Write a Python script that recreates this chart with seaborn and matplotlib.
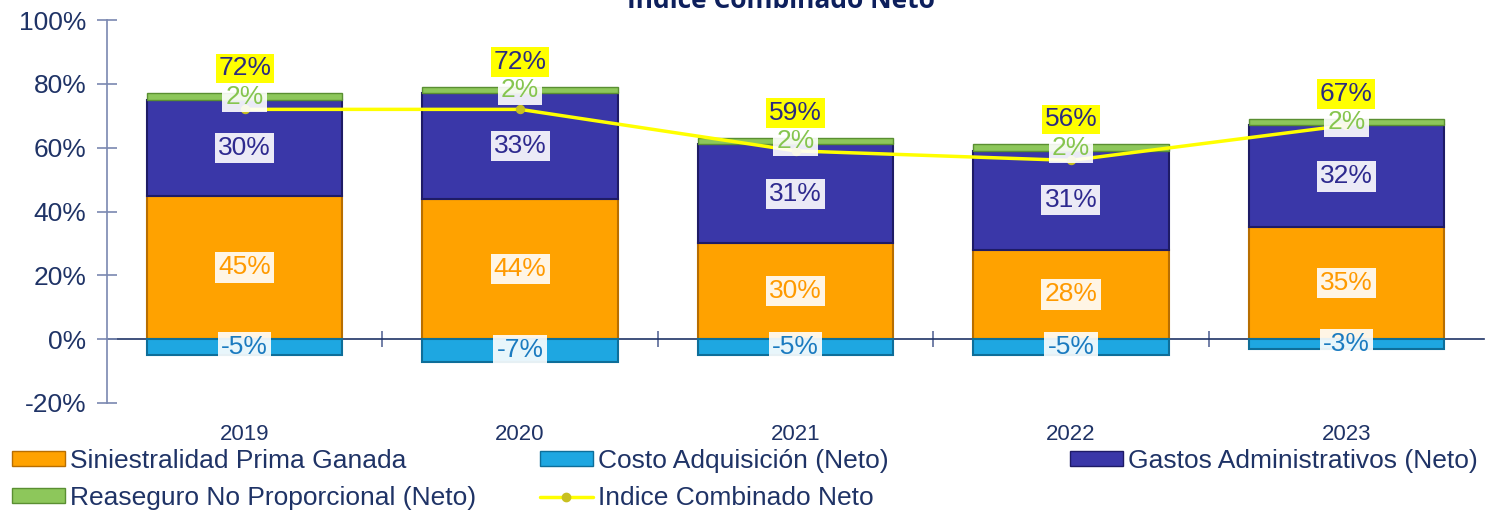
import matplotlib
matplotlib.use('Agg')
import numpy as np
import pandas as pd
import matplotlib.pyplot as plt
from matplotlib.patches import Patch
from matplotlib.lines import Line2D
import seaborn as sns

# Datos
anios = ['2019', '2020', '2021', '2022', '2023']
siniestralidad = [45, 44, 30, 28, 35]
costo_adq = [-5, -7, -5, -5, -3]
gastos_adm = [30, 33, 31, 31, 32]
reaseguro = [2, 2, 2, 2, 2]
indice = [72, 72, 59, 56, 67]

sns.set_theme(style="white")
plt.rcParams['font.family'] = ['Liberation Sans', 'DejaVu Sans']

NAVY = '#1F3366'
C_SIN, C_COSTO, C_GAS, C_REA = '#FFA200', '#1EA7E1', '#3A37A8', '#8DC75B'
E_SIN, E_COSTO, E_GAS, E_REA = '#B86E00', '#0E6E99', '#1E1B66', '#5A8F32'

df = pd.DataFrame({'anio': anios, 'sin': siniestralidad, 'costo': costo_adq,
                   'gas': gastos_adm, 'rea': reaseguro, 'indice': indice})
df['base_gas'] = df['sin']
df['base_rea'] = df['sin'] + df['gas']
df['total'] = df['base_rea'] + df['rea']

fig = plt.figure(figsize=(14.88, 5.12), dpi=100)
ax = fig.add_axes([107 / 1488, 1 - 403 / 512, (1484 - 107) / 1488, 383 / 512])

ancho = 0.71
sns.barplot(data=df, x='anio', y='sin', color=C_SIN, edgecolor=E_SIN, linewidth=1.5,
            width=ancho, saturation=1, ax=ax)
sns.barplot(data=df, x='anio', y='costo', color=C_COSTO, edgecolor=E_COSTO, linewidth=1.5,
            width=ancho, saturation=1, ax=ax)
sns.barplot(data=df, x='anio', y='gas', bottom=df['base_gas'], color=C_GAS, edgecolor=E_GAS,
            linewidth=1.5, width=ancho, saturation=1, ax=ax)
sns.barplot(data=df, x='anio', y='rea', bottom=df['base_rea'], color=C_REA, edgecolor=E_REA,
            linewidth=1.0, width=ancho, saturation=1, ax=ax)

pos = np.arange(len(anios))
sns.lineplot(x=pos, y=df['indice'], color='#FFFF00', linewidth=2.5, marker='o',
             markersize=6, markerfacecolor='#C8C020', markeredgecolor='#C8C020', ax=ax)

caja = dict(boxstyle='square,pad=0.12', facecolor='white', edgecolor='none', alpha=0.9)
fs = 19
for i in range(len(anios)):
    ax.text(i, df['sin'][i] / 2, f"{df['sin'][i]}%", ha='center', va='center',
            fontsize=fs, color='#FF9A00', bbox=caja)
    ax.text(i, df['costo'][i] / 2, f"{df['costo'][i]}%", ha='center', va='center',
            fontsize=fs, color='#1B7BC0', bbox=caja)
    ax.text(i, df['base_gas'][i] + df['gas'][i] / 2, f"{df['gas'][i]}%", ha='center',
            va='center', fontsize=fs, color='#2E2A8F', bbox=caja)
    ax.text(i, df['base_rea'][i] + df['rea'][i] / 2, f"{df['rea'][i]}%", ha='center',
            va='center', fontsize=fs, color='#86C54F', bbox=caja)
    ax.annotate(f"{df['indice'][i]}%", (i, df['total'][i]), xytext=(0, 18),
                textcoords='offset points', ha='center', va='center', fontsize=fs,
                color='#2B2B80',
                bbox=dict(boxstyle='square,pad=0.1', facecolor='#FFFF00', edgecolor='none'))

ax.set_xlim(-0.5, len(anios) - 0.5)
ax.set_ylim(-20, 100)
ax.set_yticks(range(-20, 101, 20))
ax.set_yticklabels([f"{v}%" for v in range(-20, 101, 20)])
ax.set_xlabel('')
ax.set_ylabel('')
ax.tick_params(axis='y', direction='inout', length=14, width=1.2, color='#7A88B0',
               labelsize=19, labelcolor=NAVY, pad=8, left=True)
ax.tick_params(axis='x', length=0, labelsize=16, labelcolor=NAVY, pad=15)
for s in ['top', 'right', 'bottom']:
    ax.spines[s].set_visible(False)
ax.spines['left'].set_color('#7A88B0')
ax.spines['left'].set_linewidth(1.2)

# eje de categorías en 0%
eje0 = ax.secondary_xaxis(0, transform=ax.transData)
eje0.set_xticks(pos[:-1] + 0.5)
eje0.set_xticklabels([])
eje0.tick_params(direction='inout', length=12, width=1.2, color='#5A6A98')
eje0.spines['bottom'].set_color('#1F3366')
eje0.spines['bottom'].set_linewidth(1.2)

fig.text(781 / 1488, 1 - 8 / 512, 'Indice Combinado Neto', ha='center', va='baseline',
         fontsize=19, fontweight='bold', color='#0D1F5C', family=['Open Sans', 'DejaVu Sans'])

# leyenda en tres columnas
columnas = [
    (12, [Patch(facecolor=C_SIN, edgecolor=E_SIN), Patch(facecolor=C_REA, edgecolor=E_REA)],
     ['Siniestralidad Prima Ganada', 'Reaseguro No Proporcional (Neto)']),
    (540, [Patch(facecolor=C_COSTO, edgecolor=E_COSTO),
           Line2D([], [], color='#FFFF00', linewidth=2.5, marker='o', markersize=6,
                  markerfacecolor='#C8C020', markeredgecolor='#C8C020')],
     ['Costo Adquisición (Neto)', 'Indice Combinado Neto']),
    (1070, [Patch(facecolor=C_GAS, edgecolor=E_GAS)], ['Gastos Administrativos (Neto)']),
]
for x0, handles, labels in columnas:
    leg = fig.legend(handles, labels, loc='upper left', bbox_to_anchor=(x0 / 1488, 1 - 449 / 512),
                     frameon=False, fontsize=19, handlelength=2.0, handleheight=0.5,
                     handletextpad=0.2, labelspacing=0.5, borderpad=0, borderaxespad=0)
    for t in leg.get_texts():
        t.set_color(NAVY)

fig.savefig('out.png', dpi=100)
